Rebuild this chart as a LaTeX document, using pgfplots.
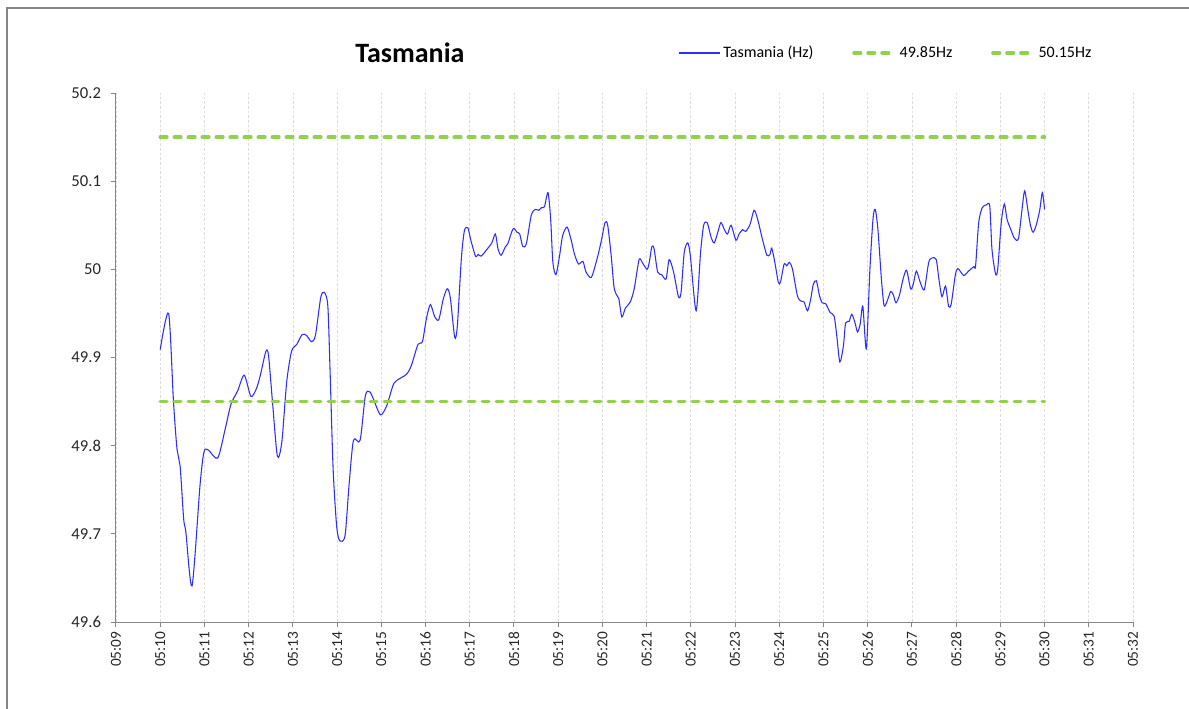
\documentclass[border=0pt]{standalone}
\usepackage{fontspec}
\setmainfont{Carlito}
\usepackage{pgfplots}
\usepackage{pgfplotstable}
\pgfplotsset{compat=1.18}
\definecolor{freqblue}{RGB}{45,45,255}
\definecolor{limgreen}{RGB}{146,208,80}
\definecolor{axgray}{RGB}{134,134,134}
\definecolor{gridgray}{RGB}{220,220,220}

\pgfplotstableread{
x y
10.00 49.909
10.19 49.950
10.30 49.850
10.38 49.796
10.45 49.777
10.53 49.717
10.58 49.702
10.72 49.641
10.90 49.755
10.99 49.793
11.09 49.795
11.30 49.786
11.47 49.819
11.60 49.847
11.75 49.862
11.90 49.880
12.05 49.856
12.17 49.864
12.26 49.879
12.39 49.907
12.45 49.902
12.54 49.849
12.65 49.788
12.75 49.804
12.86 49.872
12.97 49.907
13.09 49.915
13.21 49.926
13.31 49.925
13.42 49.918
13.51 49.925
13.63 49.968
13.71 49.974
13.79 49.959
13.84 49.887
13.91 49.774
13.99 49.709
14.06 49.692
14.18 49.698
14.27 49.755
14.37 49.806
14.52 49.806
14.64 49.857
14.74 49.861
14.82 49.853
14.98 49.835
15.12 49.845
15.27 49.869
15.38 49.875
15.57 49.881
15.68 49.891
15.83 49.915
15.93 49.918
16.02 49.944
16.11 49.960
16.21 49.946
16.30 49.943
16.40 49.966
16.49 49.978
16.56 49.968
16.66 49.923
16.72 49.936
16.81 50.012
16.88 50.044
16.96 50.047
17.02 50.034
17.13 50.015
17.19 50.017
17.26 50.015
17.41 50.024
17.50 50.030
17.58 50.040
17.64 50.023
17.71 50.016
17.80 50.025
17.86 50.029
17.98 50.046
18.07 50.042
18.13 50.040
18.20 50.026
18.28 50.029
18.39 50.061
18.48 50.068
18.56 50.067
18.62 50.070
18.69 50.071
18.77 50.087
18.83 50.057
18.88 50.008
18.95 49.994
19.03 50.015
19.10 50.038
19.20 50.048
19.29 50.034
19.37 50.017
19.46 50.006
19.56 50.009
19.63 49.997
19.75 49.991
19.88 50.012
19.97 50.031
20.06 50.053
20.12 50.050
20.20 50.015
20.26 49.981
20.31 49.972
20.37 49.967
20.44 49.946
20.52 49.956
20.63 49.963
20.72 49.978
20.83 50.011
20.91 50.007
21.01 50.000
21.06 50.008
21.12 50.026
21.17 50.023
21.25 49.997
21.34 49.994
21.44 49.989
21.51 50.011
21.61 49.997
21.72 49.969
21.78 49.974
21.85 50.019
21.93 50.030
21.99 50.015
22.12 49.953
22.22 50.019
22.29 50.050
22.37 50.053
22.46 50.036
22.53 50.030
22.61 50.042
22.68 50.053
22.76 50.045
22.83 50.040
22.91 50.050
23.02 50.033
23.09 50.040
23.17 50.045
23.24 50.043
23.34 50.051
23.43 50.067
23.51 50.057
23.62 50.034
23.72 50.016
23.79 50.017
23.83 50.024
23.90 50.008
23.98 49.985
24.03 49.986
24.11 50.006
24.17 50.004
24.23 50.008
24.30 50.000
24.41 49.970
24.49 49.964
24.56 49.963
24.64 49.953
24.71 49.966
24.77 49.983
24.84 49.987
24.91 49.970
24.97 49.962
25.05 49.961
25.15 49.951
25.24 49.947
25.30 49.925
25.37 49.895
25.45 49.913
25.50 49.939
25.58 49.941
25.64 49.949
25.71 49.940
25.77 49.929
25.83 49.938
25.89 49.958
25.97 49.910
26.05 50.000
26.12 50.057
26.17 50.068
26.23 50.046
26.31 49.989
26.37 49.959
26.44 49.964
26.52 49.975
26.58 49.971
26.64 49.962
26.72 49.971
26.80 49.989
26.88 49.999
26.97 49.978
27.03 49.983
27.10 49.998
27.19 49.985
27.28 49.977
27.38 50.008
27.46 50.013
27.55 50.011
27.61 49.989
27.68 49.969
27.76 49.981
27.83 49.958
27.89 49.961
27.98 49.993
28.04 50.001
28.17 49.993
28.28 49.998
28.40 50.003
28.44 50.004
28.51 50.053
28.59 50.070
28.68 50.073
28.76 50.072
28.81 50.023
28.89 49.995
28.94 50.000
29.02 50.053
29.09 50.074
29.15 50.057
29.23 50.046
29.32 50.035
29.41 50.035
29.49 50.068
29.55 50.089
29.62 50.068
29.68 50.050
29.74 50.042
29.81 50.050
29.89 50.067
29.95 50.087
30.00 50.068
}\freq

\begin{document}
\begin{tikzpicture}
\useasboundingbox (-87pt,-64.5pt) rectangle (804.75pt,466.5pt);
\draw[axgray, line width=0.9pt] (-81.75pt,-80pt) -- (-81.75pt,460.5pt) -- (820pt,460.5pt);
\begin{axis}[
  at={(0pt,0pt)}, anchor=south west,
  scale only axis, width=762.75pt, height=396.75pt,
  xmin=9, xmax=32, ymin=49.6, ymax=50.2,
  clip=false,
  axis x line*=bottom, axis y line*=left,
  axis line style={axgray, line width=0.75pt, -},
  xtick={9,10,11,12,13,14,15,16,17,18,19,20,21,22,23,24,25,26,27,28,29,30,31,32},
  xticklabels={05:09,05:10,05:11,05:12,05:13,05:14,05:15,05:16,05:17,05:18,05:19,05:20,05:21,05:22,05:23,05:24,05:25,05:26,05:27,05:28,05:29,05:30,05:31,05:32},
  x tick label style={rotate=90, anchor=east, font=\fontsize{11.5}{13}\selectfont, color=black!85},
  ytick={49.6,49.7,49.8,49.9,50,50.1,50.2},
  yticklabel style={font=\fontsize{12.5}{14}\selectfont, color=black!85, xshift=-4pt},
  yticklabel={\pgfmathprintnumber[fixed,precision=1]{\tick}},
  /pgf/number format/assume math mode=true,
  tick align=outside, major tick length=3.75pt,
  tick style={axgray, line width=0.75pt},
  xmajorgrids, ymajorgrids=false,
  major grid style={gridgray, dash pattern=on 2pt off 1.5pt, line width=0.5pt},
  legend columns=3,
  legend style={at={(0.5526,1.0756)}, anchor=west, draw=none, fill=none,
    font=\fontsize{12}{14}\selectfont, inner sep=0pt,
    /tikz/every even column/.append style={column sep=27pt}},
  legend image code/.code={\draw[#1] (0pt,0pt) -- (31pt,0pt);},
]
\node[font=\bfseries\fontsize{21}{25}\selectfont] at (axis description cs:0.289,1.0756) {Tasmania};
\addplot[freqblue, line width=0.8pt, smooth, tension=0.45] table[x=x, y=y] {\freq};
\addlegendentry{Tasmania (Hz)}
\addplot[limgreen, line width=2.6pt, dash pattern=on 5pt off 5.5pt, line cap=round] coordinates {(10,49.85) (30,49.85)};
\addlegendentry{49.85Hz}
\addplot[limgreen, line width=2.6pt, dash pattern=on 5pt off 5.5pt, line cap=round] coordinates {(10,50.15) (30,50.15)};
\addlegendentry{50.15Hz}
\end{axis}
\end{tikzpicture}
\end{document}
